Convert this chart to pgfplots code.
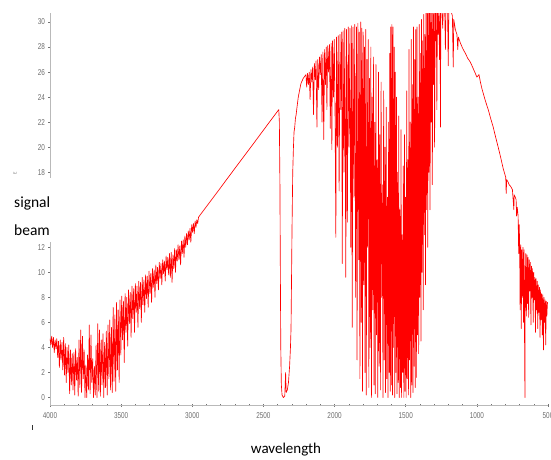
\documentclass[border=0pt]{standalone}
\usepackage{pgfplots}
\pgfplotsset{compat=1.18}
\usepackage{fontspec}
\setmainfont{Carlito}
\newfontfamily\tickfont[FakeStretch=0.75]{Liberation Sans}

\begin{document}
\begin{tikzpicture}
\begin{axis}[
  scale only axis,
  width=498pt, height=392pt,
  at={(0pt,0pt)}, anchor=south west,
  xmin=500, xmax=4000, x dir=reverse,
  ymin=-0.6, ymax=30.72,
  axis lines=left,
  axis line style={-, gray!55, line width=0.8pt},
  xtick={500,1000,...,4000},
  minor x tick num=4,
  ytick={0,2,4,6,8,10,12,18,20,22,24,26,28,30},
  minor y tick num=3,
  tick align=center,
  major tick length=3pt, minor tick length=2pt,
  every tick/.style={gray!90!black, line width=0.5pt},
  tick label style={font=\tickfont\fontsize{8.5}{9}\selectfont, text=gray!85!black},
  xticklabel style={yshift=-3pt},
  /pgf/number format/assume math mode=true,
  /pgf/number format/1000 sep={},
  scaled x ticks=false,
]
\addplot[red, line width=0.65pt, line join=round] coordinates {
% 4000 - 2950: noisy low region
(4000,4.7)(3994,4.2)(3988,4.9)(3982,4.0)(3976,4.8)(3970,3.6)(3964,4.6)(3958,3.9)(3952,4.7)(3946,3.2)
(3940,4.5)(3934,2.4)(3928,4.6)(3922,3.0)(3916,4.4)(3910,2.2)(3904,4.8)(3898,1.8)(3892,4.3)(3886,1.2)
(3880,4.0)(3874,2.0)(3868,4.2)(3862,0.3)(3856,3.8)(3850,1.0)(3844,3.5)(3838,0.6)(3832,3.6)(3826,0.2)
(3820,3.9)(3814,1.4)(3808,3.2)(3802,0.1)(3796,4.6)(3790,0.8)(3784,5.4)(3778,0.4)(3772,4.9)(3766,1.5)
(3760,3.8)(3754,0.0)(3748,2.6)(3742,0.0)(3736,3.4)(3730,0.6)(3724,5.8)(3718,0.3)(3712,5.0)(3706,1.2)
(3700,3.1)(3694,0.0)(3688,2.5)(3682,0.2)(3676,4.2)(3670,0.0)(3664,5.9)(3658,0.5)(3652,5.4)(3646,0.1)
(3640,4.6)(3634,1.0)(3628,5.1)(3622,0.0)(3616,4.4)(3610,0.8)(3604,5.3)(3598,0.2)(3592,5.8)(3586,1.5)
(3580,6.2)(3574,0.6)(3568,5.6)(3562,0.4)(3556,7.2)(3550,1.3)(3544,6.6)(3538,0.5)(3532,7.6)(3526,2.2)
(3520,7.0)(3514,1.2)(3508,7.8)(3502,3.4)(3496,8.1)(3490,4.6)(3484,7.7)(3478,2.8)(3472,8.3)(3466,5.2)
(3460,8.0)(3454,4.1)(3448,8.6)(3442,5.9)(3436,8.4)(3430,4.8)(3424,8.9)(3418,6.3)(3412,8.7)(3406,5.2)
(3400,9.1)(3394,6.8)(3388,8.9)(3382,5.6)(3376,9.3)(3370,7.1)(3364,9.2)(3358,6.0)(3352,9.6)(3346,7.4)
(3340,9.4)(3334,6.8)(3328,9.8)(3322,7.9)(3316,9.7)(3310,7.2)(3304,10.1)(3298,8.3)(3292,9.9)(3286,7.6)
(3280,10.3)(3274,8.8)(3268,10.2)(3262,8.0)(3256,10.6)(3250,9.1)(3244,10.4)(3238,8.6)(3232,10.8)(3226,9.5)
(3220,10.7)(3214,9.0)(3208,11.0)(3202,9.9)(3196,10.9)(3190,9.3)(3184,11.3)(3178,10.2)(3172,11.2)(3166,9.8)
(3160,11.5)(3154,9.6)(3148,11.6)(3142,9.2)(3136,11.4)(3130,10.3)(3124,11.9)(3118,10.0)(3112,11.8)(3106,10.9)
(3100,12.2)(3094,11.0)(3088,12.1)(3082,10.6)(3076,12.5)(3070,11.5)(3064,12.6)(3058,11.2)(3052,12.9)(3046,12.0)
(3040,13.1)(3034,12.2)(3028,13.3)(3022,12.6)(3016,13.5)(3010,12.4)(3004,13.8)(2998,13.2)(2992,13.9)(2986,13.1)
(2980,14.1)(2974,13.6)(2968,14.2)(2962,13.9)(2956,14.4)(2950,14.5)
% smooth rise
(2900,15.26)(2850,16.02)(2800,16.78)(2750,17.55)(2700,18.31)(2650,19.07)(2600,19.83)(2550,20.59)
(2500,21.36)(2450,22.12)(2400,22.88)(2392,23.0)
% CO2 band
(2388,22.0)(2384,17.0)(2381,10.0)(2378,4.0)(2374,1.0)(2369,0.2)(2360,0.0)(2350,0.1)(2344,2.0)(2340,0.4)
(2332,0.6)(2324,1.2)(2316,2.5)(2310,4.0)(2306,5.5)(2302,10.0)(2299,13.5)(2294,18.0)(2289,20.0)(2285,21.2)
(2280,21.6)(2275,22.3)(2270,22.6)(2264,23.2)(2255,24.0)(2245,24.6)(2236,25.1)(2220,25.5)(2201,25.8)
% dense water band
(2196,24.8)(2190,25.9)(2184,25.0)(2178,26.0)(2172,23.8)(2166,26.2)(2160,25.2)(2154,26.4)(2148,22.6)(2142,26.7)
(2136,25.4)(2130,26.9)(2124,21.6)(2118,27.0)(2112,24.6)(2106,27.2)(2100,25.8)(2094,27.4)(2088,22.0)(2082,27.6)
(2076,20.6)(2070,27.8)(2064,25.0)(2058,28.0)(2054,23.0)(2048,28.1)(2042,26.0)(2036,28.2)(2030,21.5)(2024,28.3)
(2019,19.8)(2014,28.5)(2008,24.0)(2002,28.6)(1996,22.0)(1991,12.8)(1986,28.8)(1980,20.0)(1974,28.9)(1968,16.5)
(1962,29.0)(1956,23.0)(1950,29.2)(1946,10.7)(1940,29.3)(1934,18.0)(1928,29.5)(1921,9.6)(1916,29.4)(1910,14.0)
(1904,29.6)(1898,20.0)(1892,29.5)(1886,12.0)(1880,29.7)(1876,5.6)(1870,29.6)(1864,16.0)(1858,29.8)(1852,8.0)
(1846,29.6)(1842,3.0)(1836,29.9)(1830,11.0)(1826,29.2)(1822,1.5)(1816,30.0)(1812,6.0)(1808,29.5)(1804,0.5)
(1799,29.2)(1795,9.0)(1790,28.0)(1786,2.0)(1781,29.4)(1777,0.2)(1772,27.0)(1768,12.0)(1763,28.6)(1759,0.8)
(1754,25.5)(1750,4.0)(1745,28.0)(1741,0.0)(1736,24.0)(1732,7.0)(1727,27.2)(1723,1.0)(1718,22.0)(1714,0.3)
(1709,26.6)(1705,5.0)(1700,19.0)(1696,0.0)(1691,26.0)(1687,2.5)(1682,21.0)(1678,0.6)(1673,25.2)(1669,8.0)
(1664,17.0)(1660,0.0)(1655,24.5)(1651,3.0)(1646,20.0)(1642,0.4)(1637,23.2)(1633,1.5)(1628,16.0)(1624,0.0)
(1620,22.0)(1616,2.0)(1612,27.5)(1609,0.5)(1605,29.6)(1601,1.0)(1597,29.8)(1593,0.2)(1589,29.6)(1585,4.0)
(1581,28.0)(1577,0.0)(1573,26.0)(1569,2.0)(1565,24.0)(1561,0.3)(1557,18.0)(1553,1.2)(1549,22.5)(1545,0.0)
(1541,15.0)(1537,0.8)(1533,21.4)(1529,0.0)(1525,13.0)(1521,2.0)(1517,18.5)(1513,0.0)(1509,21.0)(1505,0.5)
(1501,16.0)(1497,0.0)(1493,24.5)(1489,1.5)(1485,19.0)(1481,0.2)(1477,27.8)(1473,3.0)(1469,22.0)(1465,0.0)
(1461,28.6)(1457,1.0)(1453,25.0)(1449,0.4)(1445,29.6)(1441,2.5)(1437,27.0)(1433,0.8)(1429,29.4)(1425,1.6)
(1421,29.6)(1417,5.0)(1413,24.0)(1409,3.5)(1405,29.8)(1401,8.0)(1397,27.5)(1393,4.5)(1389,30.2)(1385,10.0)
(1381,28.5)(1377,7.0)(1373,30.6)(1369,13.0)(1365,29.0)(1361,9.0)(1357,31.0)(1353,15.0)(1349,31.0)(1345,12.0)
(1341,31.0)(1337,18.0)(1333,31.0)(1329,15.0)(1325,31.0)(1321,22.0)(1317,31.0)(1313,17.0)(1309,31.0)(1305,25.0)
(1301,31.0)(1297,20.0)(1293,31.0)(1289,28.5)(1285,31.0)(1281,23.0)(1277,31.0)(1272,29.0)(1268,31.0)(1262,27.0)
(1258,31.0)(1256,21.6)(1253,31.0)(1245,31.0)(1240,29.5)(1236,31.0)(1226,31.0)(1221,27.8)(1217,31.0)(1206,31.0)
(1201,26.5)(1197,31.0)(1188,31.0)
% smooth decline
(1180,30.8)(1172,30.5)(1166,26.4)(1162,30.2)(1151,29.4)(1140,29.0)(1134,27.8)(1130,28.8)(1115,28.3)(1100,27.9)
(1081,27.5)(1064,27.1)(1046,26.8)(1030,26.4)(1011,25.9)(1000,25.6)(992,25.7)(985,25.8)(975,25.2)(965,24.7)
(955,24.3)(940,23.7)(920,23.0)(903,22.3)(885,21.6)(868,20.8)(850,20.0)(833,19.2)(815,18.3)(805,17.9)
(797,17.6)(794,16.3)(790,17.4)(780,17.2)(773,17.0)(765,16.9)(759,16.8)(750,16.6)(740,15.0)(738,16.2)
(730,16.0)(724,15.8)(721,14.5)(716,15.2)(710,14.5)(706,11.5)(702,13.8)(699,12.0)(696,7.0)(692,12.2)
(688,5.5)(684,11.8)(680,8.0)(676,12.0)(672,6.0)(668,11.8)(664,3.0)(662,0.0)(660,9.0)(656,11.5)
(652,6.5)(648,11.4)(644,7.5)(640,11.2)(636,6.4)(632,11.0)(628,8.5)(624,10.8)(620,5.8)(616,10.5)
(612,8.0)(608,10.3)(604,6.0)(600,10.0)(596,7.8)(592,9.6)(588,5.2)(584,9.5)(580,7.0)(576,9.3)
(572,5.5)(568,9.0)(564,6.8)(560,8.8)(556,4.8)(552,8.6)(548,6.2)(544,8.3)(540,5.0)(536,8.2)
(532,3.8)(528,8.0)(524,6.0)(520,7.8)(516,4.2)(512,7.7)(508,6.5)(504,7.6)(500,7.5)
};
\end{axis}
% white patch with the two labels over the y axis
\fill[white] (-37pt,163pt) rectangle (2pt,227pt);
\node[anchor=base west, inner sep=0pt, font=\fontsize{15.5}{18}\selectfont] at (-36pt,198pt) {signal};
\node[anchor=base west, inner sep=0pt, font=\fontsize{15.5}{18}\selectfont] at (-36pt,170pt) {beam};
\node[anchor=center, inner sep=0pt, rotate=90, text=gray, font=\fontsize{5}{5}\selectfont] at (-35pt,232pt) {E};
\fill[black!80] (-17.5pt,-25pt) rectangle (-16.5pt,-20pt);
\node[anchor=base, inner sep=0pt, font=\fontsize{15}{18}\selectfont] at (236pt,-48pt) {wavelength};
\pgfresetboundingbox
\useasboundingbox (-50pt,-54pt) rectangle (501pt,405pt);
\end{tikzpicture}
\end{document}
